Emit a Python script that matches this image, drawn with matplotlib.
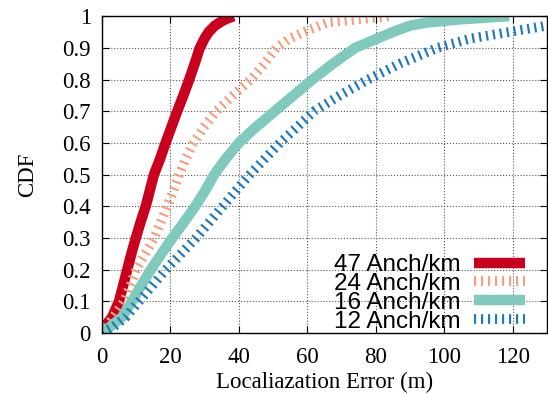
import numpy as np
import matplotlib
matplotlib.use('Agg')
from matplotlib import pyplot as plt

# CDF curves (error in m, cumulative fraction)
labels = ['47 Anch/km', '24 Anch/km', '16 Anch/km', '12 Anch/km']

x47 = [0, 1.5, 3, 5, 6.2, 7.4, 8.6, 9.9, 11.3, 12.8, 14, 15.2, 17, 18.6, 20.3, 22, 23.8, 25.5, 27.1, 28.6, 30, 31.2, 33, 34.4, 36, 38.5]
y47 = [0.01, 0.03, 0.05, 0.1, 0.15, 0.2, 0.25, 0.3, 0.35, 0.4, 0.45, 0.5, 0.55, 0.6, 0.65, 0.7, 0.75, 0.8, 0.85, 0.9, 0.93, 0.95, 0.97, 0.98, 0.99, 1.0]

x24 = [0, 2, 4, 6.5, 8.3, 10, 12.6, 15.3, 17.2, 19.1, 20.9, 22.6, 24.5, 26.8, 29.8, 33.4, 38.3, 43.5, 47.5, 51, 55, 59, 66, 75, 84.5]
y24 = [0, 0.03, 0.06, 0.1, 0.15, 0.2, 0.25, 0.3, 0.35, 0.4, 0.45, 0.5, 0.55, 0.6, 0.65, 0.7, 0.75, 0.8, 0.85, 0.9, 0.93, 0.95, 0.98, 0.99, 1.0]

x16 = [0, 2.5, 5.9, 8.8, 11.5, 14.3, 17.4, 20.6, 24, 27.3, 30.2, 32.8, 36.2, 40, 45, 50.5, 56, 61.5, 67.5, 74, 85, 90, 95, 105, 119]
y16 = [0, 0.02, 0.05, 0.1, 0.15, 0.2, 0.25, 0.3, 0.35, 0.4, 0.45, 0.5, 0.55, 0.6, 0.65, 0.7, 0.75, 0.8, 0.85, 0.9, 0.95, 0.97, 0.98, 0.99, 1.0]

x12 = [0, 3.5, 7, 10.9, 14.8, 18.7, 23.1, 27.5, 31.4, 35.3, 39.2, 43.2, 47.6, 52, 57, 62, 69.5, 77.7, 87, 98, 108, 119, 130]
y12 = [0, 0.02, 0.05, 0.1, 0.15, 0.2, 0.25, 0.3, 0.35, 0.4, 0.45, 0.5, 0.55, 0.6, 0.65, 0.7, 0.75, 0.8, 0.85, 0.9, 0.93, 0.95, 0.97]

xticks = [0, 20, 40, 60, 80, 100, 120]
yticks = [0, 0.1, 0.2, 0.3, 0.4, 0.5, 0.6, 0.7, 0.8, 0.9, 1]
yticklabels = ['0', '0.1', '0.2', '0.3', '0.4', '0.5', '0.6', '0.7', '0.8', '0.9', '1']

plt.rcParams['font.family'] = 'Liberation Serif'

fig = plt.figure(figsize=(5.48, 3.94), dpi=100)
ax = fig.add_axes([0.186, 0.155, 0.812, 0.804])

dash = (0, (0.22, 0.5))
ax.plot(x47, y47, color='#c8001e', lw=7.5, solid_capstyle='butt', label=labels[0])
ax.plot(x24, y24, color='#f2a07e', lw=7, linestyle=dash, dash_capstyle='butt', label=labels[1])
ax.plot(x16, y16, color='#7fcabd', lw=7.5, solid_capstyle='butt', label=labels[2])
ax.plot(x12, y12, color='#1f78b8', lw=7, linestyle=dash, dash_capstyle='butt', label=labels[3])

ax.set_xlim(0, 130)
ax.set_ylim(0, 1)
ax.set_xticks(xticks)
ax.set_yticks(yticks)
ax.set_yticklabels(yticklabels)
ax.tick_params(direction='in', top=True, right=True, labelsize=16.5, length=5)
ax.tick_params(axis='y', pad=8)
ax.tick_params(axis='x', pad=10)
ax.grid(True, color='#555555', linestyle=':', linewidth=0.8)
ax.set_axisbelow(True)
for s in ax.spines.values():
    s.set_linewidth(1.0)

ax.set_xlabel('Localiazation Error (m)', fontsize=16.5, labelpad=3)
ax.set_ylabel('CDF', fontsize=16.5, labelpad=17)

leg = ax.legend(loc='lower right', frameon=False, markerfirst=False,
                prop={'family': 'Liberation Sans', 'size': 17.5},
                handlelength=2.1, labelspacing=-0.13, handletextpad=0.55,
                borderaxespad=0.0, bbox_to_anchor=(0.972, -0.03))

fig.savefig('out.png', dpi=100)
